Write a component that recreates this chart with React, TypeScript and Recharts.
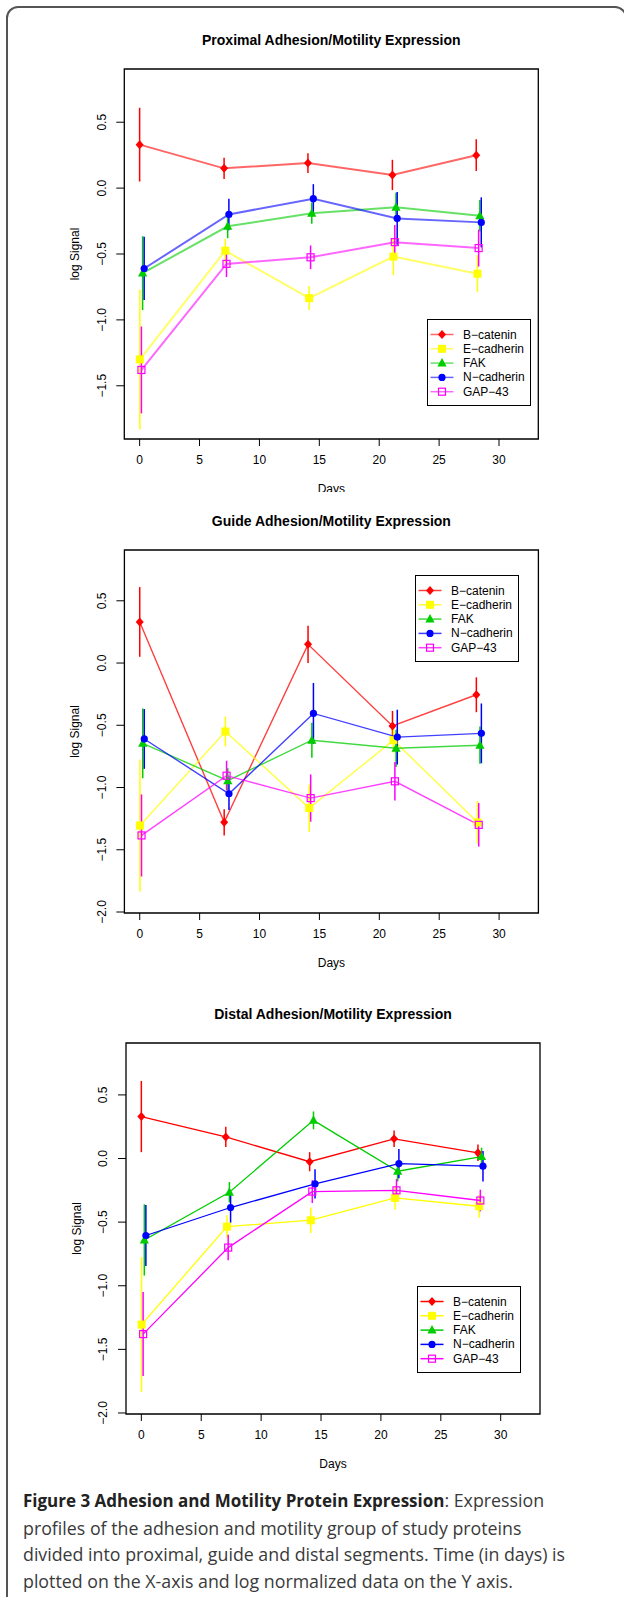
import React from 'react';
import { LineChart, Line, XAxis, YAxis, ErrorBar, ReferenceArea } from 'recharts';

// series (legend order)
const seriesNames = ['B−catenin', 'E−cadherin', 'FAK', 'N−cadherin', 'GAP−43'];
const seriesColors = ['#ff0000', '#ffff00', '#00cd00', '#0000ff', '#ff00ff'];
const seriesShapes = ['diamond', 'square', 'triangle', 'circle', 'openSquare'];

// days, slightly jittered per series
const daysBcat = [0, 7.05, 14.05, 21.1, 28.1];
const daysEcad = [0.02, 7.15, 14.15, 21.18, 28.2];
const daysFak = [0.25, 7.35, 14.37, 21.4, 28.4];
const daysNcad = [0.38, 7.45, 14.5, 21.5, 28.52];
const daysGap = [0.15, 7.25, 14.27, 21.3, 28.3];

// proximal
const proxBcat = [0.33, 0.15, 0.19, 0.1, 0.25];
const proxBcatErr = [0.28, 0.08, 0.075, 0.115, 0.12];
const proxEcad = [-1.3, -0.475, -0.835, -0.52, -0.65];
const proxEcadErr = [0.53, 0.09, 0.09, 0.14, 0.14];
const proxFak = [-0.645, -0.29, -0.19, -0.145, -0.21];
const proxFakErr = [0.28, 0.09, 0.08, 0.11, 0.12];
const proxNcad = [-0.61, -0.2, -0.08, -0.23, -0.26];
const proxNcadErr = [0.24, 0.12, 0.11, 0.2, 0.19];
const proxGap = [-1.38, -0.575, -0.525, -0.41, -0.455];
const proxGapErr = [0.33, 0.1, 0.09, 0.13, 0.14];

// guide
const guideBcat = [0.33, -1.28, 0.15, -0.505, -0.255];
const guideBcatErr = [0.28, 0.105, 0.15, 0.12, 0.14];
const guideEcad = [-1.305, -0.55, -1.165, -0.62, -1.28];
const guideEcadErr = [0.53, 0.12, 0.19, 0.1, 0.17];
const guideFak = [-0.645, -0.945, -0.62, -0.685, -0.66];
const guideFakErr = [0.28, 0.1, 0.14, 0.15, 0.15];
const guideNcad = [-0.61, -1.05, -0.405, -0.595, -0.565];
const guideNcadErr = [0.24, 0.13, 0.245, 0.22, 0.24];
const guideGap = [-1.385, -0.905, -1.085, -0.95, -1.3];
const guideGapErr = [0.33, 0.12, 0.19, 0.155, 0.175];

// distal
const distBcat = [0.33, 0.17, -0.025, 0.155, 0.045];
const distBcatErr = [0.28, 0.08, 0.075, 0.065, 0.065];
const distEcad = [-1.305, -0.535, -0.485, -0.31, -0.375];
const distEcadErr = [0.53, 0.09, 0.1, 0.09, 0.09];
const distFak = [-0.64, -0.265, 0.3, -0.1, 0.015];
const distFakErr = [0.28, 0.08, 0.07, 0.08, 0.07];
const distNcad = [-0.605, -0.385, -0.2, -0.04, -0.06];
const distNcadErr = [0.24, 0.12, 0.115, 0.115, 0.12];
const distGap = [-1.38, -0.7, -0.26, -0.25, -0.33];
const distGapErr = [0.33, 0.1, 0.09, 0.09, 0.085];

const xTicks = [0, 5, 10, 15, 20, 25, 30];
const xDomain = [-1.28, 33.28];
const proxYTicks = [-1.5, -1, -0.5, 0, 0.5];
const proxYDomain = [-1.904, 0.904];
const guideYTicks = [-2, -1.5, -1, -0.5, 0, 0.5];
const guideYDomain = [-2.008, 0.908];

const FONT = '"Liberation Sans", Arial, sans-serif';
const seriesDays = [daysBcat, daysEcad, daysFak, daysNcad, daysGap];

const fmt = (v: number) => v.toFixed(1).replace('-', '−');

function Marker({ shape, color, cx, cy }: any) {
  if (cx == null || cy == null) return null;
  if (shape === 'diamond')
    return <polygon points={`${cx},${cy - 4.5} ${cx + 4},${cy} ${cx},${cy + 4.5} ${cx - 4},${cy}`} fill={color} />;
  if (shape === 'square') return <rect x={cx - 4} y={cy - 4} width={8} height={8} fill={color} />;
  if (shape === 'triangle')
    return <polygon points={`${cx},${cy - 5} ${cx + 4.6},${cy + 3.5} ${cx - 4.6},${cy + 3.5}`} fill={color} />;
  if (shape === 'circle') return <circle cx={cx} cy={cy} r={3.6} fill={color} />;
  return <rect x={cx - 3.5} y={cy - 3.5} width={7} height={7} fill="none" stroke={color} strokeWidth={1.2} />;
}

const XTick = (props: any) => (
  <text x={props.x} y={props.y} textAnchor="middle" dominantBaseline="central" fontSize={12} fontFamily={FONT} fill="#000">
    {props.payload.value}
  </text>
);

const YTick = (props: any) => (
  <text
    x={props.x}
    y={props.y}
    transform={`rotate(-90 ${props.x} ${props.y})`}
    textAnchor="middle"
    dominantBaseline="central"
    fontSize={12}
    fontFamily={FONT}
    fill="#000"
  >
    {fmt(props.payload.value)}
  </text>
);

const DaysLabel = (props: any) => {
  const { x, y, width } = props.viewBox;
  return (
    <text x={x + width / 2} y={y + 50} textAnchor="middle" dominantBaseline="central" fontSize={12} fontFamily={FONT} fill="#000">
      Days
    </text>
  );
};

const SignalLabel = (props: any) => {
  const { x, y, height } = props.viewBox;
  const cx = x + 11;
  const cy = y + height / 2;
  return (
    <text x={cx} y={cy} transform={`rotate(-90 ${cx} ${cy})`} textAnchor="middle" dominantBaseline="central" fontSize={12} fontFamily={FONT} fill="#000">
      log Signal
    </text>
  );
};

function Legend({ left, top, lineOpacity }: any) {
  return (
    <svg style={{ position: 'absolute', left, top }} width={105} height={88}>
      <rect x={0.5} y={0.5} width={103} height={86} fill="#fff" stroke="#000" strokeWidth={1} />
      {seriesNames.map((name, i) => {
        const cy = 15.5 + i * 14.3;
        return (
          <g key={name}>
            <line x1={3.5} x2={26.5} y1={cy} y2={cy} stroke={seriesColors[i]} strokeOpacity={lineOpacity} strokeWidth={1.5} />
            <Marker shape={seriesShapes[i]} color={seriesColors[i]} cx={15} cy={cy} />
            <text x={36} y={cy} dominantBaseline="central" fontSize={12} fontFamily={FONT} fill="#000">
              {name}
            </text>
          </g>
        );
      })}
    </svg>
  );
}

function Panel(p: any) {
  const top = p.plotTop - 40;
  const height = 40 + p.plotHeight + 60;
  const data = p.means.map((vals: number[], i: number) =>
    vals.map((y, j) => ({ x: seriesDays[i][j], y, err: p.errs[i][j] }))
  );
  return (
    <>
      <div
        style={{
          position: 'absolute',
          left: p.plotLeft,
          width: p.plotRight - p.plotLeft,
          top: p.plotTop - 29 - 9,
          height: 18,
          lineHeight: '18px',
          textAlign: 'center',
          fontFamily: FONT,
          fontWeight: 'bold',
          fontSize: 14,
          color: '#000',
          whiteSpace: 'nowrap',
        }}
      >
        {p.title}
      </div>
      <div style={{ position: 'absolute', left: 0, top, width: 624, height: p.clipHeight ?? height, overflow: 'hidden' }}>
        <LineChart
          width={624}
          height={height}
          margin={{ top: 40, right: 624 - p.plotRight, left: p.plotLeft - 60, bottom: 0 }}
        >
          <XAxis
            type="number"
            dataKey="x"
            domain={xDomain}
            ticks={xTicks}
            interval={0}
            allowDataOverflow
            axisLine={false}
            tickLine={{ stroke: '#000', strokeWidth: 1 }}
            tickSize={7}
            tickMargin={14}
            tick={XTick}
            height={60}
            label={<DaysLabel />}
          />
          <YAxis
            type="number"
            domain={p.yDomain}
            ticks={p.yTicks}
            interval={0}
            allowDataOverflow
            axisLine={false}
            tickLine={{ stroke: '#000', strokeWidth: 1 }}
            tickSize={8}
            tickMargin={14.6}
            tick={YTick}
            width={60}
            label={<SignalLabel />}
          />
          <ReferenceArea
            x1={xDomain[0]}
            x2={xDomain[1]}
            y1={p.yDomain[0]}
            y2={p.yDomain[1]}
            fill="none"
            stroke="#000"
            strokeWidth={1.3}
            fillOpacity={0}
            ifOverflow="visible"
          />
          {data.map((d: any[], i: number) => (
            <Line
              key={seriesNames[i]}
              data={d}
              dataKey="y"
              stroke={seriesColors[i]}
              strokeWidth={p.lineWidth}
              strokeOpacity={p.lineOpacity}
              isAnimationActive={false}
              activeDot={false}
              dot={(dp: any) => (
                <Marker key={`${i}-${dp.index}`} shape={seriesShapes[i]} color={seriesColors[i]} cx={dp.cx} cy={dp.cy} />
              )}
            >
              <ErrorBar dataKey="err" width={0} stroke={seriesColors[i]} strokeWidth={1.5} direction="y" />
            </Line>
          ))}
        </LineChart>
      </div>
      <Legend left={p.legendLeft} top={p.legendTop} lineOpacity={p.lineOpacity} />
    </>
  );
}

export default function App() {
  return (
    <div style={{ position: 'absolute', left: 0, top: 0, width: 624, height: 1597, overflow: 'hidden', background: '#fff' }}>
      <div
        style={{
          position: 'absolute',
          left: 5.5,
          top: 6,
          width: 621,
          height: 1610,
          border: '2px solid #555',
          borderRadius: 12,
          boxSizing: 'border-box',
        }}
      />
      <Panel
        title="Proximal Adhesion/Motility Expression"
        plotTop={69.3}
        plotHeight={370}
        plotLeft={124.3}
        plotRight={538.3}
        yDomain={proxYDomain}
        yTicks={proxYTicks}
        means={[proxBcat, proxEcad, proxFak, proxNcad, proxGap]}
        errs={[proxBcatErr, proxEcadErr, proxFakErr, proxNcadErr, proxGapErr]}
        legendLeft={427}
        legendTop={319}
        lineWidth={2}
        lineOpacity={0.6}
        clipHeight={463}
      />
      <Panel
        title="Guide Adhesion/Motility Expression"
        plotTop={550}
        plotHeight={363}
        plotLeft={124.4}
        plotRight={538.4}
        yDomain={guideYDomain}
        yTicks={guideYTicks}
        means={[guideBcat, guideEcad, guideFak, guideNcad, guideGap]}
        errs={[guideBcatErr, guideEcadErr, guideFakErr, guideNcadErr, guideGapErr]}
        legendLeft={415}
        legendTop={575}
        lineWidth={1.4}
        lineOpacity={0.75}
      />
      <Panel
        title="Distal Adhesion/Motility Expression"
        plotTop={1043.3}
        plotHeight={371}
        plotLeft={126}
        plotRight={540}
        yDomain={guideYDomain}
        yTicks={guideYTicks}
        means={[distBcat, distEcad, distFak, distNcad, distGap]}
        errs={[distBcatErr, distEcadErr, distFakErr, distNcadErr, distGapErr]}
        legendLeft={417}
        legendTop={1286}
        lineWidth={1.3}
        lineOpacity={1}
      />
      <div
        style={{
          position: 'absolute',
          left: 23,
          top: 1487,
          width: 601,
          fontFamily: '"Open Sans", sans-serif',
          fontSize: 17.8,
          lineHeight: '26.6px',
          color: '#3a3a3a',
          whiteSpace: 'nowrap',
        }}
      >
        <span style={{ fontWeight: 'bold', color: '#222', fontSize: 17 }}>Figure 3 Adhesion and Motility Protein Expression</span>: Expression
        <br />
        profiles of the adhesion and motility group of study proteins
        <br />
        divided into proximal, guide and distal segments. Time (in days) is
        <br />
        plotted on the X-axis and log normalized data on the Y axis.
      </div>
    </div>
  );
}
